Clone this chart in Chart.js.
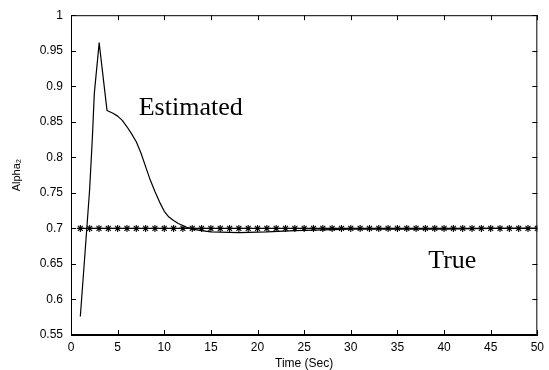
<!DOCTYPE html>
<html>
<head>
<meta charset="utf-8">
<script src="https://cdn.jsdelivr.net/npm/chart.js@4.4.1/dist/chart.umd.min.js"></script>
<style>
  html, body { margin: 0; padding: 0; background: #fff; }
  #wrap { width: 549px; height: 370px; }
</style>
</head>
<body>
<div id="wrap"><canvas id="myChart"></canvas></div>
<script>
/* data */
const estTime = [1, 1.5, 2, 2.3, 2.5, 3.02, 3.86, 4.5, 5, 5.5, 6, 6.5, 7, 7.5, 8, 8.5, 9, 9.5, 10, 10.5, 11, 11.5, 12, 12.5, 13, 14, 15, 18, 21, 24, 27, 30, 35, 40, 45, 50];
const estAlpha = [0.576, 0.665, 0.755, 0.83, 0.89, 0.961, 0.866, 0.862, 0.858, 0.852, 0.843, 0.833, 0.822, 0.806, 0.787, 0.768, 0.752, 0.737, 0.724, 0.716, 0.711, 0.707, 0.704, 0.701, 0.699, 0.697, 0.695, 0.694, 0.695, 0.697, 0.698, 0.699, 0.699, 0.699, 0.7, 0.7];

const trueTime = [1, 2, 3, 4, 5, 6, 7, 8, 9, 10, 11, 12, 13, 14, 15, 16, 17, 18, 19, 20,
  21, 22, 23, 24, 25, 26, 27, 28, 29, 30, 31, 32, 33, 34, 35, 36, 37, 38, 39, 40,
  41, 42, 43, 44, 45, 46, 47, 48, 49, 50];
const trueAlpha = [0.7, 0.7, 0.7, 0.7, 0.7, 0.7, 0.7, 0.7, 0.7, 0.7, 0.7, 0.7, 0.7, 0.7, 0.7, 0.7, 0.7, 0.7, 0.7, 0.7,
  0.7, 0.7, 0.7, 0.7, 0.7, 0.7, 0.7, 0.7, 0.7, 0.7, 0.7, 0.7, 0.7, 0.7, 0.7, 0.7, 0.7, 0.7, 0.7, 0.7,
  0.7, 0.7, 0.7, 0.7, 0.7, 0.7, 0.7, 0.7, 0.7, 0.7];

const xTicks = [0, 5, 10, 15, 20, 25, 30, 35, 40, 45, 50];
const yTicks = [0.55, 0.6, 0.65, 0.7, 0.75, 0.8, 0.85, 0.9, 0.95, 1];
const yTickLabels = ["0.55", "0.6", "0.65", "0.7", "0.75", "0.8", "0.85", "0.9", "0.95", "1"];

// curve labels, placed in data units
const notes = [
  { text: "Estimated", x: 7.26, y: 0.859 },
  { text: "True", x: 38.3, y: 0.644 },
];

const sansFont = "'Liberation Sans', Arial, sans-serif";

function toPoints(xs, ys) {
  return xs.map((x, i) => ({ x: x, y: ys[i] }));
}

/* box around plot with inward ticks on all four sides, plus the text notes */
const boxPlugin = {
  id: "box",
  afterDraw(chart) {
    const c = chart.ctx;
    const a = chart.chartArea;
    const xs = chart.scales.x;
    const ys = chart.scales.y;
    const len = 5;
    c.save();
    c.strokeStyle = "#000";
    c.lineWidth = 1;
    c.beginPath();
    c.rect(a.left + 0.5, a.top + 0.5, a.right - a.left - 1, a.bottom - a.top - 1);
    xTicks.forEach((v) => {
      const px = Math.round(xs.getPixelForValue(v)) + 0.5;
      c.moveTo(px, a.bottom);
      c.lineTo(px, a.bottom - len);
      c.moveTo(px, a.top);
      c.lineTo(px, a.top + len);
    });
    yTicks.forEach((v) => {
      const py = Math.round(ys.getPixelForValue(v)) + 0.5;
      c.moveTo(a.left, py);
      c.lineTo(a.left + len, py);
      c.moveTo(a.right, py);
      c.lineTo(a.right - len, py);
    });
    c.stroke();

    c.fillStyle = "#000";
    c.font = "26px 'Liberation Serif', 'Times New Roman', serif";
    c.textBaseline = "alphabetic";
    c.textAlign = "left";
    notes.forEach((n) => {
      c.fillText(n.text, xs.getPixelForValue(n.x), ys.getPixelForValue(n.y));
    });
    c.restore();
  },
};

let ctx = document.getElementById("myChart");

let lineChart = new Chart(ctx, {
  type: "line",
  data: {
    datasets: [
      {
        label: "Estimated",
        data: toPoints(estTime, estAlpha),
        borderColor: "#000",
        borderWidth: 1.2,
        borderJoinStyle: "round",
        pointRadius: 0,
        tension: 0,
        fill: false,
      },
      {
        label: "True",
        data: toPoints(trueTime, trueAlpha),
        borderColor: "#000",
        borderWidth: 1.2,
        pointStyle: "star",
        pointRadius: 3.5,
        pointBorderWidth: 1.1,
        pointBorderColor: "#000",
        pointBackgroundColor: "#000",
        fill: false,
      },
    ],
  },
  options: {
    responsive: true,
    maintainAspectRatio: false,
    animation: false,
    layout: { padding: { top: 15, right: 3, left: 0, bottom: 0 } },
    plugins: {
      legend: { display: false },
      tooltip: { enabled: false },
    },
    scales: {
      x: {
        type: "linear",
        min: 0,
        max: 50,
        afterFit: (s) => { s.height = 35; },
        afterBuildTicks: (s) => { s.ticks = xTicks.map((v) => ({ value: v })); },
        grid: { display: false, drawTicks: false },
        border: { display: true, color: "#000", width: 1 },
        ticks: {
          color: "#000",
          padding: 5,
          maxRotation: 0,
          font: { family: sansFont, size: 12 },
        },
        title: {
          display: true,
          text: "Time (Sec)",
          color: "#000",
          padding: { top: 0, bottom: 0 },
          font: { family: sansFont, size: 12, lineHeight: 1 },
        },
      },
      y: {
        type: "linear",
        min: 0.55,
        max: 1,
        afterFit: (s) => { s.width = 71; },
        afterBuildTicks: (s) => { s.ticks = yTicks.map((v) => ({ value: v })); },
        grid: { display: false, drawTicks: false },
        border: { display: true, color: "#000", width: 1 },
        ticks: {
          color: "#000",
          padding: 8,
          font: { family: sansFont, size: 12 },
          callback: (v, i) => yTickLabels[i],
        },
        title: {
          display: true,
          text: "Alpha\u2082",
          color: "#000",
          padding: { top: 10, bottom: 0 },
          font: { family: sansFont, size: 11 },
        },
      },
    },
  },
  plugins: [boxPlugin],
});
</script>
</body>
</html>
